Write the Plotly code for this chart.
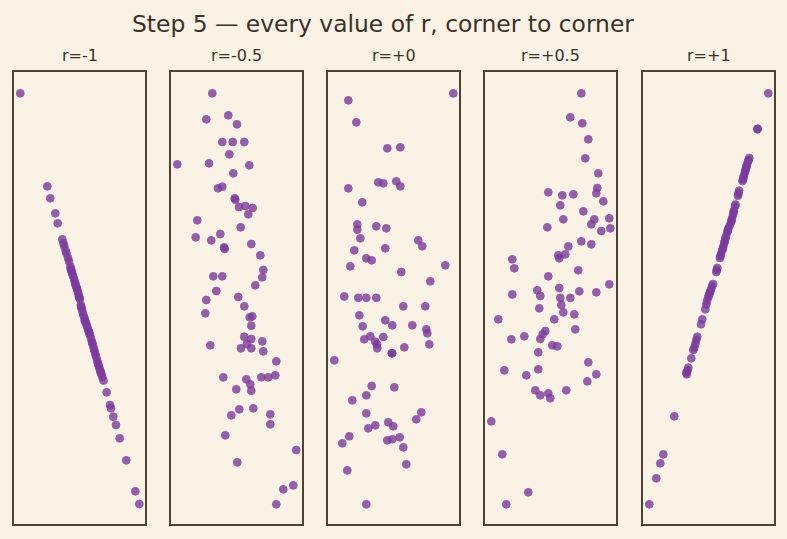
import plotly.graph_objects as go

TITLE = "Step 5 — every value of r, corner to corner"
PANEL_LABELS = ["r=-1", "r=-0.5", "r=+0", "r=+0.5", "r=+1"]

# ---- data (one x list and one y list per panel) ----
x_rm1 = [6.3, 33.3, 36.3, 41.3, 43.7, 48.3, 50.3, 51.7, 55, 56.3, 57.3, 60, 61.3, 62.7, 64.3, 65.3,
         67.7, 69.3, 71, 72.7, 74.3, 76, 78.3, 80, 81.3, 83.3, 84.7, 86.3, 88.3, 92.7, 96, 97, 99.3,
         102, 105.7, 112.3, 121.3, 125.3,
         49.5, 52.5, 54, 57.8, 59, 60.7, 63.5, 65.8, 66.8, 68.5, 70.3, 71.8, 73.5, 75.3, 77, 79.2,
         80.7, 82.3, 84, 85.5, 87.3, 89.5, 63, 70.8, 58.3, 61.8, 67.2, 74.8, 78, 86.8, 64.8, 56.8]
y_rm1 = [430.7, 337.7, 325.7, 310.7, 300.7, 284.7, 277.7, 273.3, 262.7, 257.7, 253.7, 245.3, 240,
         236, 231, 226.7, 215.7, 209, 204, 199, 194, 189, 180.7, 174.7, 169.7, 163, 158.3, 153, 147,
         131.7, 119, 115.7, 107.3, 99, 85.7, 63.7, 32.7, 20,
         280.5, 270.5, 266, 252, 248, 242.5, 233.5, 225, 219, 212.5, 206.5, 201.5, 196.5, 191, 185.5,
         178, 172.5, 166.5, 160.5, 155.5, 150, 143.5, 235.5, 203, 250.5, 239, 217, 192.5, 182, 151.5,
         228, 255]

x_rm05 = [41.3, 35.3, 57.3, 66, 51.3, 61.7, 73.3, 58.3, 6.3, 38, 78.3, 62.3, 47, 51.3, 63.7, 64.3,
          68, 74.3, 81.7, 77.3, 26.3, 69.7, 24.7, 49.3, 40.3, 53, 53.7, 80.3, 89.3, 92.3, 91.3, 42.3,
          51.3, 84.3, 45.3, 35.3, 67.3, 34.3, 73.3, 78.7, 81.3, 80.3, 39.3, 73.3, 80.3, 76, 70, 80.3,
          91.3, 92.3, 105.3, 52.3, 75.3, 79.3, 80.3, 90.3, 97.3, 104.3, 65.3, 68.3, 60.3, 82.3, 99.3,
          99.3, 54.3, 125.3, 66.3, 112.3, 122.3, 105.3]
y_rm05 = [430.7, 404.7, 408.7, 399.7, 382, 382, 382, 369.7, 359.7, 360.7, 358.7, 350.7, 335.7, 337.3,
          325.7, 324.3, 317, 318, 316, 309.7, 303.7, 296.7, 286.7, 290, 283.7, 276.7, 275, 280, 268.7,
          254, 246.7, 247.7, 247.7, 238.7, 233, 224, 227, 210.7, 217.7, 206.7, 207.7, 198.3, 178.7,
          187.3, 185, 180, 175.7, 175.7, 182.7, 172.7, 162.7, 146.7, 144.7, 139.7, 133.3, 146.7, 146.7,
          148.7, 134.7, 114.7, 108.7, 115.7, 109.7, 99.7, 88.7, 74, 61.7, 34.7, 38.7, 19.7]

x_r0 = [20.3, 125.3, 28.3, 59.3, 72.3, 20.3, 50.3, 55.3, 68.3, 72.3, 34.3, 29.3, 29.3, 48.3, 58.3,
        32.3, 90.3, 94.3, 26.3, 57.3, 38.3, 43.7, 22.3, 117.3, 73.3, 102.3, 16.3, 30.3, 38.3, 48.3,
        75.3, 97.3, 31.3, 34.7, 57.3, 64.3, 84.3, 98.3, 99.3, 101.3, 36.3, 42.3, 47.3, 49, 49.3, 55.3,
        63.7, 64.3, 76.3, 6.3, 43.7, 66.3, 38.3, 24.3, 38.3, 93.3, 88.3, 47.3, 40.3, 60.3, 65.3, 21.3,
        14.3, 59.3, 64.3, 71.7, 75.3, 19.3, 78.3, 38.3]
y_r0 = [423.7, 430.7, 401.7, 375.7, 376.7, 335.7, 341.7, 340.7, 342.7, 337.7, 321.7, 299.7, 294.3,
        297.7, 295.7, 285.7, 283.7, 277.7, 273.7, 275.7, 265.7, 263.7, 257.7, 258.7, 252, 242.7, 227.5,
        226.2, 226.2, 226.2, 217.7, 217.7, 208.7, 197.7, 203.7, 198.7, 198.7, 194.7, 190.7, 179.7,
        184.7, 187.7, 182.3, 179.7, 175.7, 187, 170.7, 170.7, 176.7, 163.7, 138, 136.7, 128.7, 123.7,
        110.7, 111.7, 104.7, 98.7, 95.7, 101.7, 97.7, 87.7, 80.7, 83.7, 84.7, 86.7, 76.7, 53.7, 59.7,
        19.7]

x_rp05 = [96.3, 85.3, 97.3, 103.3, 100.3, 113.3, 112.3, 111.3, 118.3, 63.3, 77.3, 88.3, 75.3, 98.3,
          78.3, 109.3, 106.3, 124.3, 125.3, 116.3, 62.3, 96.3, 106.3, 83.3, 73.3, 80.3, 74.3, 27.3,
          29.3, 93.3, 63.3, 124.3, 27.3, 52.3, 55.3, 74.3, 94.3, 111.3, 75.3, 85.3, 54.3, 76.3, 78.3,
          89.3, 13.3, 69.3, 90.3, 60.3, 57.7, 55.3, 26.3, 39.3, 67.3, 72.3, 53.3, 103.3, 19.3, 41.3,
          53.3, 111.3, 102.3, 50.3, 55.3, 63.3, 65.3, 81.3, 6.3, 17.3, 43.3, 21.3]
y_rp05 = [430.7, 406.7, 400.7, 384.7, 365.7, 350.7, 336, 330.7, 322.7, 331.7, 328.7, 329.7, 318.7,
          312.7, 304.7, 304.7, 299.7, 305.7, 295.7, 293, 296.7, 282.7, 279.7, 277.7, 268.7, 269.7,
          265.7, 264.7, 255.7, 253.7, 247.7, 239.7, 229.5, 233.7, 228, 236, 232.7, 231.7, 226.2, 226.2,
          215.7, 219, 211.7, 209.7, 204.7, 204.7, 194.7, 193, 189.7, 185, 184.7, 187.7, 178.7, 177.7,
          171.7, 161.7, 153.7, 148.7, 154.7, 149.7, 142.7, 133.7, 128.7, 130.7, 125.7, 133.7, 102.7,
          69.7, 31.7, 19.7]

x_rp1 = [125.3, 114.7, 114.3, 106.3, 105, 104, 103, 102, 101, 100, 96, 95, 92, 91, 90, 89, 88, 85.3,
         84.3, 82.3, 81.3, 80.3, 79.3, 78, 77, 74.3, 73.3, 70, 68, 66.7, 65.3, 64, 62.3, 59.3, 58,
         54.3, 53.3, 51.3, 50.3, 48.3, 45.3, 43.7, 43.3, 31.3, 20.3, 17.3, 13.3, 6.3,
         105.5, 103.5, 102.5, 100.5, 99.5, 95.5, 92.5, 90.5, 88.5, 86.5, 84.8, 83, 81.8, 79.8, 77.5,
         73.8, 69, 67.3, 65.8, 63.3, 52.3, 44.5]
y_rp1 = [430.7, 395.3, 394.7, 366, 362.7, 359.3, 356, 352, 348.7, 344.7, 333.3, 328.3, 317.7, 313.3,
         309.3, 305.3, 301.7, 295.3, 291.7, 285.3, 281, 277.3, 273.7, 270, 266, 256, 252, 240, 234.7,
         231, 226.7, 223, 214.7, 204.7, 199.7, 187.3, 184, 176.3, 174, 165.7, 156.3, 149.7, 151.3,
         107.7, 69.7, 60.7, 45.7, 19.7,
         363.5, 357.5, 354, 346.5, 343, 330.5, 319.5, 311.5, 303.5, 298, 293.5, 287.5, 283, 275.5,
         268, 254, 237.5, 232.5, 229, 219.5, 180, 153.5]

PANEL_X = [x_rm1, x_rm05, x_r0, x_rp05, x_rp1]
PANEL_Y = [y_rm1, y_rm05, y_r0, y_rp05, y_rp1]

# ---- styling ----
W, H = 787, 539
BG = "#FAF2E4"
FRAME = "#4E4335"
TEXT = "#3A3128"
DOT = "#7B3A9E"
FONT = "DejaVu Sans"

PANEL_LEFT_PX = [14, 171, 328, 485, 643]
PANEL_W_PX = 131
PANEL_TOP_PX, PANEL_BOTTOM_PX = 72, 524
X_RANGE = [0, 131]
Y_RANGE = [0, 452]

fig = go.Figure()
annotations = []
for i, (xs, ys) in enumerate(zip(PANEL_X, PANEL_Y)):
    n = "" if i == 0 else str(i + 1)
    fig.add_trace(go.Scatter(
        x=xs, y=ys, mode="markers", xaxis="x" + n, yaxis="y" + n,
        marker=dict(size=7.8, color=DOT, opacity=0.8, line=dict(color=DOT, width=1)),
        hoverinfo="skip", showlegend=False))
    left = PANEL_LEFT_PX[i] / W
    right = (PANEL_LEFT_PX[i] + PANEL_W_PX) / W
    ax = dict(showticklabels=False, showgrid=False, zeroline=False, ticks="",
              showline=True, mirror=True, linecolor=FRAME, linewidth=1.5, fixedrange=True)
    fig.update_layout({
        "xaxis" + n: dict(ax, domain=[left, right], range=X_RANGE, anchor="y" + n),
        "yaxis" + n: dict(ax, domain=[1 - PANEL_BOTTOM_PX / H, 1 - PANEL_TOP_PX / H],
                          range=Y_RANGE, anchor="x" + n),
    })
    annotations.append(dict(
        text=PANEL_LABELS[i], x=(left + right) / 2, y=1 - 55.5 / H, xref="paper", yref="paper",
        xanchor="center", yanchor="middle", showarrow=False,
        font=dict(family=FONT, size=16, color=TEXT)))

annotations.append(dict(
    text=TITLE, x=383 / W, y=1 - 23.8 / H, xref="paper", yref="paper",
    xanchor="center", yanchor="middle", showarrow=False,
    font=dict(family=FONT, size=23.4, color=TEXT)))

fig.update_layout(width=W, height=H, margin=dict(l=0, r=0, t=0, b=0),
                  paper_bgcolor=BG, plot_bgcolor=BG, showlegend=False,
                  annotations=annotations)

fig.write_html("out.html")
